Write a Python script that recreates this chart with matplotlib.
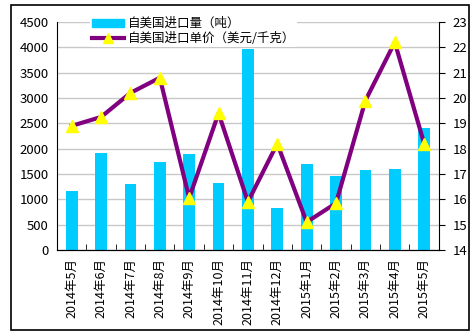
import matplotlib
matplotlib.use("Agg")
import matplotlib.pyplot as plt
from matplotlib.lines import Line2D
from matplotlib.patches import Rectangle
import numpy as np

plt.rcParams["font.family"] = ["Noto Sans CJK SC", "DejaVu Sans"]

months = ["2014年5月", "2014年6月", "2014年7月", "2014年8月", "2014年9月", "2014年10月",
          "2014年11月", "2014年12月", "2015年1月", "2015年2月", "2015年3月", "2015年4月",
          "2015年5月"]
volume = [1170, 1920, 1310, 1745, 1890, 1315, 3960, 835, 1690, 1455, 1570, 1590, 2410]
price = [18.9, 19.25, 20.2, 20.8, 16.05, 19.4, 15.9, 18.2, 15.1, 15.85, 19.9, 22.2, 18.2]

BAR_COLOR = "#00CCFF"
LINE_COLOR = "#800080"

fig = plt.figure(figsize=(4.77, 3.36), dpi=100)
fig.patches.append(Rectangle((11 / 477, 1 - 330 / 336), 458 / 477, 325 / 336,
                             transform=fig.transFigure, fill=False,
                             edgecolor="black", linewidth=1.2))

ax = fig.add_axes([0.1195, 0.256, 0.8005, 0.6785])
x = np.arange(len(months))
ax.bar(x, volume, width=0.4, color=BAR_COLOR, zorder=2)
ax.set_xlim(-0.5, len(months) - 0.5)
ax.set_ylim(0, 4500)
ax.set_yticks(range(0, 4501, 500))
ax.yaxis.grid(True, color="#c8c8c8", linewidth=1, zorder=0)
ax.set_axisbelow(True)
ax.tick_params(axis="y", length=0, labelsize=9.5, pad=6)
ax.set_xticks(x)
ax.set_xticklabels(months, rotation=90, fontsize=9)
ax.tick_params(axis="x", length=0, pad=6)
ax.set_xticks(np.arange(0.5, len(months) - 1, 1), minor=True)
ax.tick_params(axis="x", which="minor", direction="in", length=4)
for s in ["left", "bottom"]:
    ax.spines[s].set_color("black")
ax.spines["top"].set_visible(False)
ax.spines["right"].set_visible(False)

ax2 = ax.twinx()
ax2.plot(x, price, color=LINE_COLOR, linewidth=3, marker="^", markersize=8,
         markerfacecolor="#FFFF00", markeredgecolor="#FFFF00", zorder=3)
ax2.set_ylim(14, 23)
ax2.set_yticks(range(14, 24))
ax2.tick_params(axis="y", direction="out", length=4, labelsize=9.5, pad=6)
ax2.spines["top"].set_visible(False)
ax2.spines["left"].set_visible(False)

handles = [Rectangle((0, 0), 1, 1, color=BAR_COLOR),
           Line2D([], [], color=LINE_COLOR, linewidth=3, marker="^", markersize=7,
                  markerfacecolor="#FFFF00", markeredgecolor="#FFFF00")]
leg = ax2.legend(handles, ["自美国进口量（吨）", "自美国进口单价（美元/千克）"],
                 loc="upper left", bbox_to_anchor=(0.07, 1.06), frameon=True,
                 fontsize=9, handlelength=2.5, handleheight=0.6,
                 borderpad=0.2, labelspacing=0.15, handletextpad=0.3)
leg.get_frame().set_facecolor("white")
leg.get_frame().set_edgecolor("none")
leg.get_frame().set_alpha(1)
leg.set_zorder(5)

fig.savefig("out.png", dpi=100)
